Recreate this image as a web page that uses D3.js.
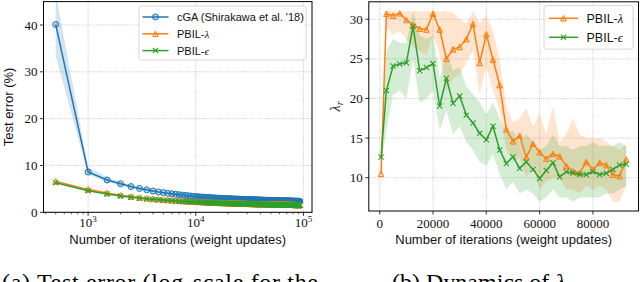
<!DOCTYPE html>
<html><head><meta charset="utf-8">
<script src="https://cdn.jsdelivr.net/npm/d3@7"></script>
<style>body{margin:0;background:#fff}svg{display:block}</style>
</head><body>
<svg id="c" width="640" height="282"></svg>
<script>
// ---------- Left panel data (test error %, every 500 iterations) ----------
const iterL = [
500,1000,1500,2000,2500,3000,3500,4000,4500,5000,
5500,6000,6500,7000,7500,8000,8500,9000,9500,10000,
10500,11000,11500,12000,12500,13000,13500,14000,14500,15000,
15500,16000,16500,17000,17500,18000,18500,19000,19500,20000,
20500,21000,21500,22000,22500,23000,23500,24000,24500,25000,
25500,26000,26500,27000,27500,28000,28500,29000,29500,30000,
30500,31000,31500,32000,32500,33000,33500,34000,34500,35000,
35500,36000,36500,37000,37500,38000,38500,39000,39500,40000,
40500,41000,41500,42000,42500,43000,43500,44000,44500,45000,
45500,46000,46500,47000,47500,48000,48500,49000,49500,50000,
50500,51000,51500,52000,52500,53000,53500,54000,54500,55000,
55500,56000,56500,57000,57500,58000,58500,59000,59500,60000,
60500,61000,61500,62000,62500,63000,63500,64000,64500,65000,
65500,66000,66500,67000,67500,68000,68500,69000,69500,70000,
70500,71000,71500,72000,72500,73000,73500,74000,74500,75000,
75500,76000,76500,77000,77500,78000,78500,79000,79500,80000,
80500,81000,81500,82000,82500,83000,83500,84000,84500,85000,
85500,86000,86500,87000,87500,88000,88500,89000,89500,90000,
90500,91000,91500,92000,92500];
const cgaErr = [
40.1,8.6,6.9,6.1,5.5,5.1,4.8,4.55,4.35,4.2,
4.05,3.95,3.85,3.75,3.68,3.6,3.53,3.47,3.41,3.36,
3.32,3.28,3.25,3.22,3.19,3.16,3.13,3.11,3.08,3.06,
3.04,3.02,3.0,2.98,2.97,2.95,2.94,2.92,2.91,2.9,
2.88,2.87,2.86,2.85,2.84,2.83,2.82,2.81,2.8,2.79,
2.78,2.77,2.76,2.75,2.75,2.74,2.73,2.72,2.72,2.71,
2.7,2.7,2.69,2.68,2.68,2.67,2.66,2.66,2.65,2.65,
2.64,2.64,2.63,2.63,2.62,2.62,2.61,2.61,2.6,2.6,
2.59,2.59,2.58,2.58,2.57,2.57,2.57,2.56,2.56,2.55,
2.55,2.55,2.54,2.54,2.53,2.53,2.53,2.52,2.52,2.52,
2.51,2.51,2.51,2.5,2.5,2.5,2.49,2.49,2.49,2.48,
2.48,2.48,2.47,2.47,2.47,2.47,2.46,2.46,2.46,2.45,
2.45,2.45,2.45,2.44,2.44,2.44,2.44,2.43,2.43,2.43,
2.43,2.42,2.42,2.42,2.42,2.41,2.41,2.41,2.41,2.4,
2.4,2.4,2.4,2.4,2.39,2.39,2.39,2.39,2.39,2.38,
2.38,2.38,2.38,2.38,2.37,2.37,2.37,2.37,2.37,2.36,
2.36,2.36,2.36,2.36,2.36,2.35,2.35,2.35,2.35,2.35,
2.35,2.34,2.34,2.34,2.34,2.34,2.34,2.33,2.33,2.33,
2.33,2.33,2.33,2.32,2.32];
const lamErr = [
6.6,4.9,4.1,3.65,3.35,3.15,3.0,2.88,2.78,2.7,
2.63,2.57,2.52,2.47,2.43,2.39,2.36,2.33,2.3,2.27,
2.25,2.22,2.2,2.18,2.16,2.14,2.12,2.11,2.09,2.08,
2.06,2.05,2.04,2.03,2.02,2.01,2.0,1.99,1.98,1.97,
1.96,1.95,1.95,1.94,1.93,1.92,1.92,1.91,1.9,1.9,
1.89,1.89,1.88,1.87,1.87,1.86,1.86,1.85,1.85,1.84,
1.84,1.83,1.83,1.83,1.82,1.82,1.81,1.81,1.81,1.8,
1.8,1.8,1.79,1.79,1.79,1.78,1.78,1.78,1.77,1.77,
1.77,1.77,1.76,1.76,1.76,1.75,1.75,1.75,1.75,1.74,
1.74,1.74,1.74,1.73,1.73,1.73,1.73,1.72,1.72,1.72,
1.72,1.72,1.71,1.71,1.71,1.71,1.7,1.7,1.7,1.7,
1.7,1.69,1.69,1.69,1.69,1.69,1.68,1.68,1.68,1.68,
1.68,1.68,1.67,1.67,1.67,1.67,1.67,1.67,1.66,1.66,
1.66,1.66,1.66,1.66,1.65,1.65,1.65,1.65,1.65,1.65,
1.65,1.64,1.64,1.64,1.64,1.64,1.64,1.64,1.63,1.63,
1.63,1.63,1.63,1.63,1.63,1.62,1.62,1.62,1.62,1.62,
1.62,1.62,1.62,1.61,1.61,1.61,1.61,1.61,1.61,1.61,
1.6,1.6,1.6,1.6,1.6,1.6,1.6,1.6,1.59,1.59,
1.59,1.59,1.59,1.59,1.59];
const epsErr = [
6.3,4.6,3.9,3.5,3.2,3.0,2.86,2.75,2.66,2.58,
2.52,2.46,2.41,2.37,2.33,2.29,2.26,2.23,2.2,2.18,
2.15,2.13,2.11,2.09,2.07,2.05,2.03,2.02,2.0,1.99,
1.97,1.96,1.95,1.94,1.93,1.92,1.91,1.9,1.89,1.88,
1.87,1.87,1.86,1.85,1.84,1.84,1.83,1.82,1.82,1.81,
1.8,1.8,1.79,1.79,1.78,1.78,1.77,1.77,1.76,1.76,
1.75,1.75,1.74,1.74,1.74,1.73,1.73,1.72,1.72,1.72,
1.71,1.71,1.71,1.7,1.7,1.7,1.69,1.69,1.69,1.69,
1.68,1.68,1.68,1.67,1.67,1.67,1.67,1.66,1.66,1.66,
1.66,1.65,1.65,1.65,1.65,1.64,1.64,1.64,1.64,1.64,
1.63,1.63,1.63,1.63,1.63,1.62,1.62,1.62,1.62,1.62,
1.61,1.61,1.61,1.61,1.61,1.61,1.6,1.6,1.6,1.6,
1.6,1.6,1.59,1.59,1.59,1.59,1.59,1.59,1.58,1.58,
1.58,1.58,1.58,1.58,1.58,1.57,1.57,1.57,1.57,1.57,
1.57,1.57,1.56,1.56,1.56,1.56,1.56,1.56,1.56,1.55,
1.55,1.55,1.55,1.55,1.55,1.55,1.54,1.54,1.54,1.54,
1.54,1.54,1.54,1.54,1.53,1.53,1.53,1.53,1.53,1.53,
1.53,1.53,1.52,1.52,1.52,1.52,1.52,1.52,1.52,1.52,
1.51,1.51,1.51,1.51,1.51];
// cGA spread band (first 20 evaluations, narrower afterwards than markers)
const cgaBandLo = [33.4,8.0,6.5,5.8,5.25,4.85,4.58,4.35,4.17,4.03,3.9,3.8,3.71,3.62,3.56,3.49,3.43,3.37,3.32,3.27];
const cgaBandHi = [46.8,9.6,7.5,6.5,5.8,5.35,5.02,4.75,4.53,4.37,4.2,4.1,3.99,3.88,3.8,3.71,3.63,3.57,3.5,3.45];
const yTicksL = [0,10,20,30,40];
const xTicksL = [1000,10000,100000];
const xTickExpL = ["3","4","5"];

// ---------- Right panel data (lambda_r) ----------
const iterR = [500,2500,5000,7500,10000,12500,15000,17500,20000,22500,25000,27500,30000,32500,35000,37500,40000,42500,45000,47500,50000,52500,55000,57500,60000,62500,65000,67500,70000,72500,75000,77500,80000,82500,85000,87500,90000,92500];
const lamR   = [10.5,30.7,30.45,30.75,29.9,29.3,28.8,28.7,30.7,28.7,25.0,26.2,26.5,27.5,29.4,24.5,28.1,24.9,21.7,16.1,14.6,15.3,12.6,14.3,13.2,12.4,13.0,12.7,11.5,10.8,10.6,12.0,11.0,11.9,11.6,10.4,10.2,12.3];
const lamRHi = [12.0,31.0,31.0,31.0,31.0,31.0,31.0,31.0,31.0,31.0,31.0,30.8,30.0,29.5,31.0,29.5,30.5,28.5,25.0,19.0,17.0,17.5,18.8,16.5,18.0,15.5,19.0,14.5,15.5,17.5,15.5,15.0,15.0,15.0,14.5,14.0,13.5,14.3];
const lamRLo = [9.0,29.0,28.0,28.5,27.5,26.5,26.0,25.5,28.0,25.5,21.0,22.5,23.0,24.5,26.0,20.5,24.0,21.0,18.5,13.5,12.0,12.5,10.0,11.5,8.5,9.5,10.0,10.0,8.5,8.5,8.0,9.0,8.5,9.0,8.5,7.0,7.0,9.0];
const epsR   = [12.6,21.0,24.1,24.35,24.5,29.1,23.5,23.9,24.4,19.05,22.55,19.4,20.3,17.9,16.9,15.6,14.8,16.5,13.5,11.8,12.65,11.2,12.0,11.05,9.9,10.9,11.9,10.1,10.75,10.6,10.4,10.4,10.75,10.4,10.55,11.05,11.6,11.7];
const epsRHi = [13.5,26.0,27.5,27.0,27.0,31.0,28.0,27.5,28.0,22.5,26.0,23.5,24.0,21.5,20.5,19.5,18.0,19.5,17.5,15.5,16.0,14.5,15.5,14.5,13.5,14.0,15.5,14.0,14.0,13.5,14.0,14.0,14.5,14.0,14.0,14.0,14.5,13.9];
const epsRLo = [11.5,16.0,20.5,21.0,20.0,25.0,19.5,20.0,21.0,16.0,18.5,15.5,16.5,14.5,13.5,12.0,11.5,13.0,10.5,8.5,9.5,8.0,8.5,8.0,7.0,7.5,8.5,7.5,7.5,7.0,7.5,7.5,7.5,7.5,8.0,8.0,8.5,9.0];
const yTicksR = [10,15,20,25,30];
const xTicksR = [0,20000,40000,60000,80000];

const C = {blue:"#1f77b4", orange:"#ff7f0e", green:"#2ca02c"};
const SANS = "'Liberation Sans', Arial, sans-serif";
const SERIF = "'Liberation Serif', 'Times New Roman', serif";

const svg = d3.select("#c");
svg.append("rect").attr("width",640).attr("height",282).attr("fill","#fff");

function triPath(s){return `M0,${-s}L${s},${s}L${-s},${s}Z`;}
function drawMarker(g, kind, color, x, y){
  if(kind==="o"){
    g.append("circle").attr("cx",x).attr("cy",y).attr("r",3)
     .attr("fill",color).attr("fill-opacity",0.3).attr("stroke",color).attr("stroke-width",1);
  } else if(kind==="^"){
    g.append("path").attr("d",triPath(2.8)).attr("transform",`translate(${x},${y})`)
     .attr("fill",color).attr("fill-opacity",0.3).attr("stroke",color).attr("stroke-width",1);
  } else {
    const s=2.6;
    g.append("path").attr("d",`M${x-s},${y-s}L${x+s},${y+s}M${x-s},${y+s}L${x+s},${y-s}`)
     .attr("stroke",color).attr("stroke-width",1.1).attr("fill","none");
  }
}

// ================= LEFT PANEL =================
const lo = Math.log10(iterL[0]), hi = Math.log10(iterL[iterL.length-1]), mg = 0.05*(hi-lo);
const L = {x0:43.5, x1:312, y0:1.6, y1:212.3};
const xL = d3.scaleLog().domain([10**(lo-mg), 10**(hi+mg)]).range([L.x0, L.x1]);
const yL = d3.scaleLinear().domain([0,45]).range([L.y1, L.y0]);

svg.append("clipPath").attr("id","clipL").append("rect")
  .attr("x",L.x0).attr("y",L.y0).attr("width",L.x1-L.x0).attr("height",L.y1-L.y0);
const gL = svg.append("g");
const gridL = gL.append("g").attr("stroke","#b0b0b0").attr("stroke-width",0.8).attr("stroke-dasharray","0.8,1.3");
xTicksL.forEach(t=>gridL.append("line").attr("x1",xL(t)).attr("x2",xL(t)).attr("y1",L.y0).attr("y2",L.y1));
yTicksL.forEach(t=>gridL.append("line").attr("x1",L.x0).attr("x2",L.x1).attr("y1",yL(t)).attr("y2",yL(t)));

const pL = gL.append("g").attr("clip-path","url(#clipL)");
const bandIdx = d3.range(cgaBandLo.length);
pL.append("path").attr("fill",C.blue).attr("fill-opacity",0.2)
  .attr("d", d3.area().x(i=>xL(iterL[i])).y0(i=>yL(cgaBandLo[i])).y1(i=>yL(cgaBandHi[i]))(bandIdx));
const seriesL = [[cgaErr,C.blue,"o"],[lamErr,C.orange,"^"],[epsErr,C.green,"x"]];
seriesL.forEach(([vals,col,mk])=>{
  const line = d3.line().x((d,i)=>xL(iterL[i])).y(d=>yL(d));
  pL.append("path").attr("d",line(vals)).attr("fill","none").attr("stroke",col).attr("stroke-width",1.5);
  const gm = pL.append("g");
  vals.forEach((v,i)=>drawMarker(gm,mk,col,xL(iterL[i]),yL(v)));
});
// frame
gL.append("rect").attr("x",L.x0).attr("y",L.y0).attr("width",L.x1-L.x0).attr("height",L.y1-L.y0)
  .attr("fill","none").attr("stroke","#000").attr("stroke-width",1);
// ticks
const tkL = gL.append("g").attr("stroke","#000");
yTicksL.forEach(t=>tkL.append("line").attr("x1",L.x0-3.5).attr("x2",L.x0).attr("y1",yL(t)).attr("y2",yL(t)).attr("stroke-width",0.8));
xTicksL.forEach(t=>tkL.append("line").attr("x1",xL(t)).attr("x2",xL(t)).attr("y1",L.y1).attr("y2",L.y1+3.5).attr("stroke-width",0.8));
const [dMin,dMax] = xL.domain();
[100,1000,10000].forEach(b=>{ for(let k=2;k<=9;k++){ const v=b*k; if(v>dMin && v<dMax)
  tkL.append("line").attr("x1",xL(v)).attr("x2",xL(v)).attr("y1",L.y1).attr("y2",L.y1+2).attr("stroke-width",0.6);} });
yTicksL.forEach(t=>gL.append("text").attr("x",L.x0-6).attr("y",yL(t)).attr("dy","0.35em")
  .attr("text-anchor","end").attr("font-family",SERIF).attr("font-size",13).attr("fill","#111").text(t));
xTicksL.forEach((t,i)=>{
  const tx = gL.append("text").attr("x",xL(t)).attr("y",227).attr("text-anchor","middle")
    .attr("font-family",SERIF).attr("font-size",13).attr("fill","#111");
  tx.append("tspan").text("10");
  tx.append("tspan").attr("dy",-5).attr("font-size",9).text(xTickExpL[i]);
});
gL.append("text").attr("x",(L.x0+L.x1)/2).attr("y",244).attr("text-anchor","middle")
  .attr("font-family",SANS).attr("font-size",13).attr("fill","#111").text("Number of iterations (weight updates)");
gL.append("text").attr("transform",`translate(13,${(L.y0+L.y1)/2}) rotate(-90)`).attr("text-anchor","middle")
  .attr("font-family",SANS).attr("font-size",13).attr("fill","#111").text("Test error (%)");

// legend left
const lgL = gL.append("g");
lgL.append("rect").attr("x",139).attr("y",6).attr("width",167).attr("height",54).attr("rx",2.5)
  .attr("fill","#fff").attr("fill-opacity",0.8).attr("stroke","#ccc").attr("stroke-width",0.8);
const legL = [["cGA (Shirakawa et al. '18)",C.blue,"o",null],["PBIL-",C.orange,"^","λ"],["PBIL-",C.green,"x","ϵ"]];
legL.forEach(([lab,col,mk,gr],i)=>{
  const y = 17 + i*16.8;
  lgL.append("line").attr("x1",142.5).attr("x2",168.5).attr("y1",y).attr("y2",y).attr("stroke",col).attr("stroke-width",1.5);
  drawMarker(lgL,mk,col,155.5,y);
  const t = lgL.append("text").attr("x",177).attr("y",y).attr("dy","0.36em").attr("font-family",SANS)
    .attr("font-size",11).attr("fill","#111");
  t.append("tspan").text(lab);
  if(gr) t.append("tspan").attr("font-family",SERIF).attr("font-style","italic").text(gr);
});

// ================= RIGHT PANEL =================
const R = {x0:368.8, x1:638.5, y0:1.8, y1:211};
const xR = d3.scaleLinear().domain([-4100, 97100]).range([R.x0, R.x1]);
const yR = d3.scaleLinear().domain([5.8, 32.2]).range([R.y1, R.y0]);
svg.append("clipPath").attr("id","clipR").append("rect")
  .attr("x",R.x0).attr("y",R.y0).attr("width",R.x1-R.x0).attr("height",R.y1-R.y0);
const gR = svg.append("g");
const gridR = gR.append("g").attr("stroke","#b0b0b0").attr("stroke-width",0.8).attr("stroke-dasharray","0.8,1.3");
xTicksR.forEach(t=>gridR.append("line").attr("x1",xR(t)).attr("x2",xR(t)).attr("y1",R.y0).attr("y2",R.y1));
yTicksR.forEach(t=>gridR.append("line").attr("x1",R.x0).attr("x2",R.x1).attr("y1",yR(t)).attr("y2",yR(t)));
const pR = gR.append("g").attr("clip-path","url(#clipR)");
const idxR = d3.range(iterR.length);
[[lamRLo,lamRHi,C.orange],[epsRLo,epsRHi,C.green]].forEach(([a,b,col])=>{
  pR.append("path").attr("fill",col).attr("fill-opacity",0.2)
    .attr("d", d3.area().x(i=>xR(iterR[i])).y0(i=>yR(a[i])).y1(i=>yR(b[i]))(idxR));
});
[[lamR,C.orange,"^"],[epsR,C.green,"x"]].forEach(([vals,col,mk])=>{
  pR.append("path").attr("d", d3.line().x((d,i)=>xR(iterR[i])).y(d=>yR(d))(vals))
    .attr("fill","none").attr("stroke",col).attr("stroke-width",1.5);
  const gm = pR.append("g");
  vals.forEach((v,i)=>drawMarker(gm,mk,col,xR(iterR[i]),yR(v)));
});
gR.append("rect").attr("x",R.x0).attr("y",R.y0).attr("width",R.x1-R.x0).attr("height",R.y1-R.y0)
  .attr("fill","none").attr("stroke","#000").attr("stroke-width",1);
const tkR = gR.append("g").attr("stroke","#000").attr("stroke-width",0.8);
yTicksR.forEach(t=>tkR.append("line").attr("x1",R.x0-3.5).attr("x2",R.x0).attr("y1",yR(t)).attr("y2",yR(t)));
xTicksR.forEach(t=>tkR.append("line").attr("x1",xR(t)).attr("x2",xR(t)).attr("y1",R.y1).attr("y2",R.y1+3.5));
yTicksR.forEach(t=>gR.append("text").attr("x",R.x0-6).attr("y",yR(t)).attr("dy","0.35em")
  .attr("text-anchor","end").attr("font-family",SERIF).attr("font-size",13).attr("fill","#111").text(t));
xTicksR.forEach(t=>gR.append("text").attr("x",xR(t)).attr("y",228).attr("text-anchor","middle")
  .attr("font-family",SERIF).attr("font-size",13).attr("fill","#111").text(t));
gR.append("text").attr("x",(R.x0+R.x1)/2).attr("y",244).attr("text-anchor","middle")
  .attr("font-family",SANS).attr("font-size",13).attr("fill","#111").text("Number of iterations (weight updates)");
const yl = gR.append("text").attr("transform",`translate(340,${(R.y0+R.y1)/2}) rotate(-90)`).attr("text-anchor","middle")
  .attr("font-family",SERIF).attr("font-size",14).attr("fill","#111");
yl.append("tspan").attr("font-style","italic").text("λ");
yl.append("tspan").attr("font-style","italic").attr("font-size",10).attr("dy",3).text("r");

const lgR = gR.append("g");
lgR.append("rect").attr("x",544).attr("y",5.7).attr("width",89).attr("height",43.5).attr("rx",2.5)
  .attr("fill","#fff").attr("fill-opacity",0.8).attr("stroke","#ccc").attr("stroke-width",0.8);
[["PBIL-",C.orange,"^","λ"],["PBIL-",C.green,"x","ϵ"]].forEach(([lab,col,mk,gr],i)=>{
  const y = 18.3 + i*19;
  lgR.append("line").attr("x1",549).attr("x2",578).attr("y1",y).attr("y2",y).attr("stroke",col).attr("stroke-width",1.5);
  drawMarker(lgR,mk,col,563.5,y);
  const t = lgR.append("text").attr("x",586.5).attr("y",y).attr("dy","0.36em").attr("font-family",SANS)
    .attr("font-size",12.5).attr("fill","#111");
  t.append("tspan").text(lab);
  t.append("tspan").attr("font-family",SERIF).attr("font-style","italic").text(gr);
});

// ================= Captions (cut off at bottom, as in the reference) =================
svg.append("text").attr("x",2).attr("y",290).attr("font-family",SERIF).attr("font-size",24)
  .attr("fill","#000").attr("textLength",316).attr("lengthAdjust","spacing").text("(a) Test error (log-scale for the");
const cb = svg.append("text").attr("x",392).attr("y",290).attr("font-family",SERIF).attr("font-size",24).attr("fill","#000");
cb.append("tspan").text("(b) Dynamics of ");
cb.append("tspan").attr("font-style","italic").text("λ");
cb.append("tspan").attr("font-style","italic").attr("font-size",17).attr("dy",4).text("r");
</script>
</body></html>
